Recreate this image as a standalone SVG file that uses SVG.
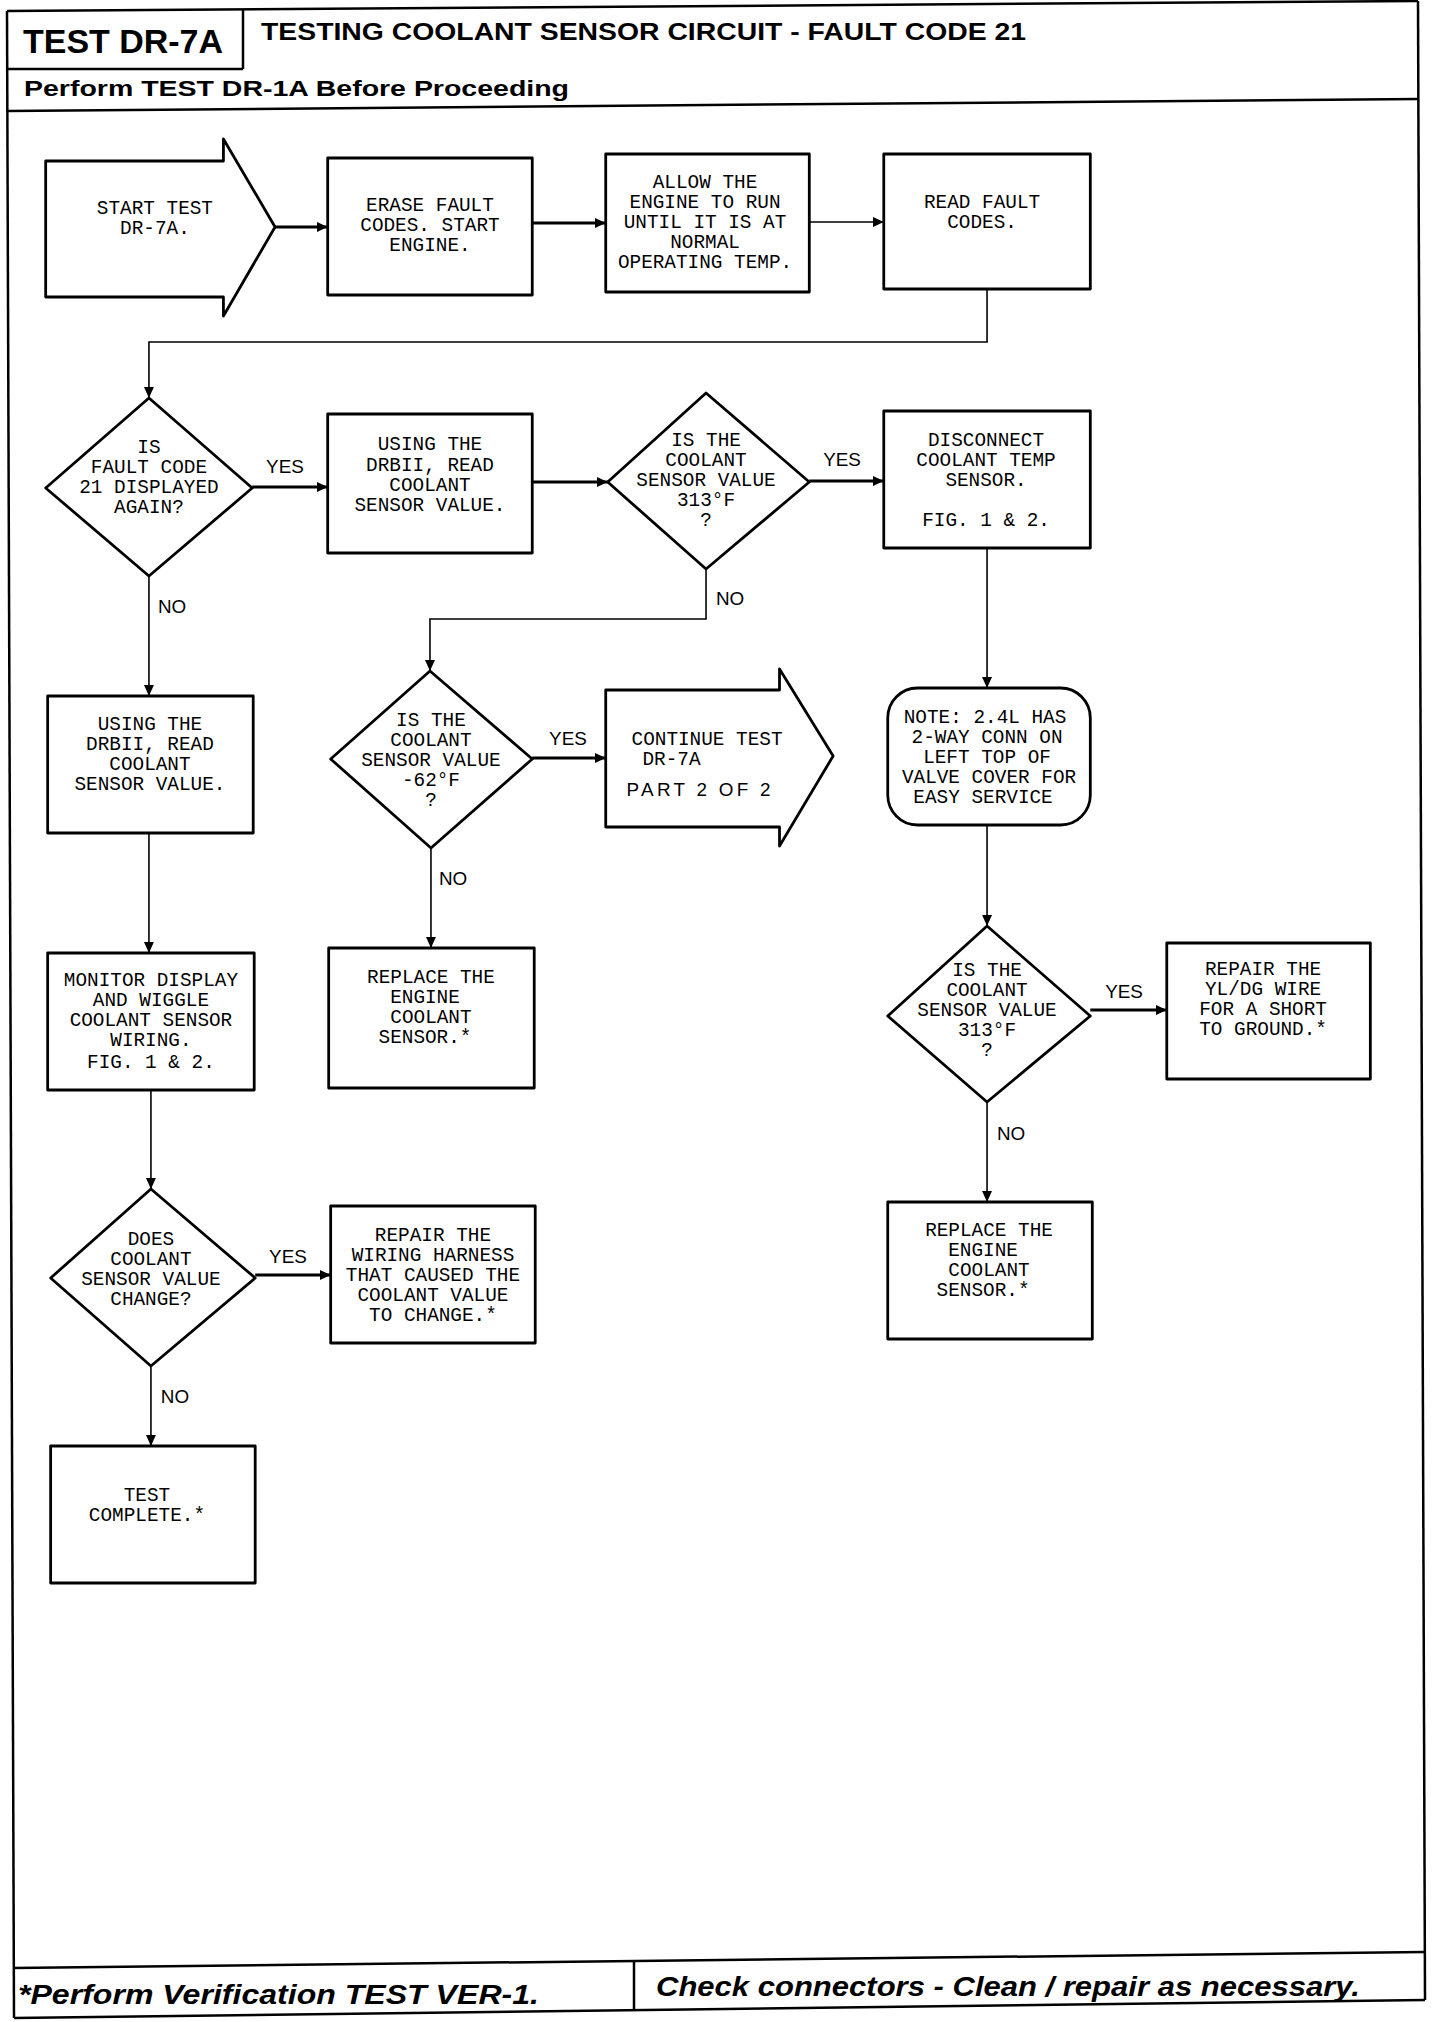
<svg xmlns="http://www.w3.org/2000/svg" width="1440" height="2022" viewBox="0 0 1440 2022">
<defs>
<marker id="ah" markerUnits="userSpaceOnUse" markerWidth="12" markerHeight="10" refX="11" refY="5" orient="auto">
<path d="M0,0 L11,5 L0,10 Z" fill="#000"/>
</marker>
<style>
.frame{fill:none;stroke:#000;stroke-width:2.5}
.box{fill:#fff;stroke:#000;stroke-width:2.8;stroke-linejoin:round}
.c{fill:none;stroke:#000;stroke-width:1.6}
.ca{fill:none;stroke:#000;stroke-width:3}
.t{font-family:"Liberation Mono","DejaVu Sans Mono",monospace;font-size:19.5px;text-anchor:middle;fill:#000}
.tl{font-family:"Liberation Mono","DejaVu Sans Mono",monospace;font-size:19.5px;fill:#000}
.lab{font-family:"Liberation Sans",Arial,sans-serif;font-size:19px;fill:#000}
.hb{font-family:"Liberation Sans",Arial,sans-serif;font-weight:bold;fill:#000}
.ft{font-family:"Liberation Sans",Arial,sans-serif;font-weight:bold;font-style:italic;font-size:27px;fill:#000}
</style>
</defs>
<rect width="1440" height="2022" fill="#fff"/>
<g id="frame">
<line class="frame" x1="7" y1="11" x2="1418" y2="1"/>
<line class="frame" x1="7" y1="11" x2="14" y2="2018"/>
<line class="frame" x1="1418" y1="1" x2="1425" y2="2000"/>
<line class="frame" x1="14" y1="2018" x2="1425" y2="2000"/>
<line class="frame" x1="7" y1="69" x2="243" y2="69"/>
<line class="frame" x1="243" y1="10" x2="243" y2="69"/>
<line class="frame" x1="7" y1="111" x2="1418" y2="99"/>
<line class="frame" x1="13" y1="1968" x2="1425" y2="1952"/>
<line class="frame" x1="634" y1="1962" x2="634" y2="2011"/>
<text class="hb" x="23" y="53" font-size="33" textLength="200" lengthAdjust="spacingAndGlyphs">TEST DR-7A</text>
<text class="hb" x="261" y="40" font-size="23" textLength="765" lengthAdjust="spacingAndGlyphs">TESTING COOLANT SENSOR CIRCUIT - FAULT CODE 21</text>
<text class="hb" x="24" y="96" font-size="22" textLength="545" lengthAdjust="spacingAndGlyphs">Perform TEST DR-1A Before Proceeding</text>
<text class="ft" x="18" y="2004" textLength="521" lengthAdjust="spacingAndGlyphs">*Perform Verification TEST VER-1.</text>
<text class="ft" x="656" y="1996" textLength="704" lengthAdjust="spacingAndGlyphs">Check connectors - Clean / repair as necessary.</text>
</g>
<g transform="matrix(0.993,0,0,1,0,1)">
<g id="connectors">
<line class="ca" x1="277" y1="226" x2="330" y2="226" marker-end="url(#ah)"/>
<line class="ca" x1="536" y1="222" x2="610" y2="222" marker-end="url(#ah)"/>
<line class="c" x1="815" y1="221" x2="890" y2="221" marker-end="url(#ah)"/>
<path class="c" d="M994,288 V341 H150 V397" marker-end="url(#ah)"/>
<line class="ca" x1="254" y1="486" x2="330" y2="486" marker-end="url(#ah)"/>
<line class="ca" x1="536" y1="481" x2="612" y2="481" marker-end="url(#ah)"/>
<line class="ca" x1="815" y1="480" x2="890" y2="480" marker-end="url(#ah)"/>
<line class="c" x1="994" y1="547" x2="994" y2="687" marker-end="url(#ah)"/>
<line class="c" x1="994" y1="824" x2="994" y2="925" marker-end="url(#ah)"/>
<line class="ca" x1="1098" y1="1009" x2="1175" y2="1009" marker-end="url(#ah)"/>
<line class="c" x1="994" y1="1101" x2="994" y2="1201" marker-end="url(#ah)"/>
<path class="c" d="M711,568 V618 H433 V670" marker-end="url(#ah)"/>
<line class="ca" x1="536" y1="757" x2="610" y2="757" marker-end="url(#ah)"/>
<line class="c" x1="434" y1="847" x2="434" y2="947" marker-end="url(#ah)"/>
<line class="c" x1="150" y1="575" x2="150" y2="695" marker-end="url(#ah)"/>
<line class="c" x1="150" y1="832" x2="150" y2="952" marker-end="url(#ah)"/>
<line class="c" x1="152" y1="1089" x2="152" y2="1188" marker-end="url(#ah)"/>
<line class="ca" x1="257" y1="1274" x2="333" y2="1274" marker-end="url(#ah)"/>
<line class="c" x1="152" y1="1365" x2="152" y2="1445" marker-end="url(#ah)"/>
<text class="lab" x="268" y="472">YES</text>
<text class="lab" x="829" y="465">YES</text>
<text class="lab" x="159" y="612">NO</text>
<text class="lab" x="721" y="604">NO</text>
<text class="lab" x="553" y="744">YES</text>
<text class="lab" x="442" y="884">NO</text>
<text class="lab" x="1113" y="997">YES</text>
<text class="lab" x="1004" y="1139">NO</text>
<text class="lab" x="271" y="1262">YES</text>
<text class="lab" x="162" y="1402">NO</text>
</g>
<g id="start">
<polygon class="box" points="46,160 225,160 225,138 277,226 225,315 225,296 46,296"/>
<text class="t" x="156" y="213">START TEST</text>
<text class="t" x="156" y="233">DR-7A.</text>
</g>
<g id="erase">
<rect class="box" x="330" y="157" width="206" height="137"/>
<text class="t" x="433" y="210">ERASE FAULT</text>
<text class="t" x="433" y="230">CODES. START</text>
<text class="t" x="433" y="250">ENGINE.</text>
</g>
<g id="allow">
<rect class="box" x="610" y="153" width="205" height="138"/>
<text class="t" x="710" y="187">ALLOW THE</text>
<text class="t" x="710" y="207">ENGINE TO RUN</text>
<text class="t" x="710" y="227">UNTIL IT IS AT</text>
<text class="t" x="710" y="247">NORMAL</text>
<text class="t" x="710" y="267">OPERATING TEMP.</text>
</g>
<g id="read">
<rect class="box" x="890" y="153" width="208" height="135"/>
<text class="t" x="989" y="207">READ FAULT</text>
<text class="t" x="989" y="227">CODES.</text>
</g>
<g id="d1">
<polygon class="box" points="150,397 254,487 150,575 46,487"/>
<text class="t" x="150" y="452">IS</text>
<text class="t" x="150" y="472">FAULT CODE</text>
<text class="t" x="150" y="492">21 DISPLAYED</text>
<text class="t" x="150" y="512">AGAIN?</text>
</g>
<g id="using1">
<rect class="box" x="330" y="413" width="206" height="139"/>
<text class="t" x="433" y="449">USING THE</text>
<text class="t" x="433" y="470">DRBII, READ</text>
<text class="t" x="433" y="490">COOLANT</text>
<text class="t" x="433" y="510">SENSOR VALUE.</text>
</g>
<g id="d2">
<polygon class="box" points="711,392 815,481 711,568 612,481"/>
<text class="t" x="711" y="445">IS THE</text>
<text class="t" x="711" y="465">COOLANT</text>
<text class="t" x="711" y="485">SENSOR VALUE</text>
<text class="t" x="711" y="505">313°F</text>
<text class="t" x="711" y="525">?</text>
</g>
<g id="disconnect">
<rect class="box" x="890" y="410" width="208" height="137"/>
<text class="t" x="993" y="445">DISCONNECT</text>
<text class="t" x="993" y="465">COOLANT TEMP</text>
<text class="t" x="993" y="485">SENSOR.</text>
<text class="t" x="993" y="525">FIG. 1 &amp; 2.</text>
</g>
<g id="note">
<rect class="box" x="894" y="687" width="204" height="137" rx="30" ry="30"/>
<text class="t" x="992" y="722">NOTE: 2.4L HAS</text>
<text class="t" x="994" y="742">2-WAY CONN ON</text>
<text class="t" x="994" y="762">LEFT TOP OF</text>
<text class="t" x="996" y="782">VALVE COVER FOR</text>
<text class="t" x="990" y="802">EASY SERVICE</text>
</g>
<g id="d4">
<polygon class="box" points="994,925 1098,1015 994,1101 894,1015"/>
<text class="t" x="994" y="975">IS THE</text>
<text class="t" x="994" y="995">COOLANT</text>
<text class="t" x="994" y="1015">SENSOR VALUE</text>
<text class="t" x="994" y="1035">313°F</text>
<text class="t" x="994" y="1055">?</text>
</g>
<g id="repairyl">
<rect class="box" x="1175" y="942" width="205" height="136"/>
<text class="t" x="1272" y="974">REPAIR THE</text>
<text class="t" x="1272" y="994">YL/DG WIRE</text>
<text class="t" x="1272" y="1014">FOR A SHORT</text>
<text class="t" x="1272" y="1034">TO GROUND.*</text>
</g>
<g id="replace2">
<rect class="box" x="894" y="1201" width="206" height="137"/>
<text class="t" x="996" y="1235">REPLACE THE</text>
<text class="t" x="990" y="1255">ENGINE</text>
<text class="t" x="996" y="1275">COOLANT</text>
<text class="t" x="990" y="1295">SENSOR.*</text>
</g>
<g id="d3">
<polygon class="box" points="433,670 536,758 434,847 333,758"/>
<text class="t" x="434" y="725">IS THE</text>
<text class="t" x="434" y="745">COOLANT</text>
<text class="t" x="434" y="765">SENSOR VALUE</text>
<text class="t" x="434" y="785">-62°F</text>
<text class="t" x="434" y="805">?</text>
</g>
<g id="continue">
<polygon class="box" points="610,689 785,689 785,668 839,755 785,845 785,826 610,826"/>
<text class="tl" x="636" y="744">CONTINUE TEST</text>
<text class="tl" x="647" y="764">DR-7A</text>
<text class="lab" x="631" y="795" font-size="20" textLength="145" lengthAdjust="spacing">PART  2 OF 2</text>
</g>
<g id="replace1">
<rect class="box" x="331" y="947" width="207" height="140"/>
<text class="t" x="434" y="982">REPLACE THE</text>
<text class="t" x="428" y="1002">ENGINE</text>
<text class="t" x="434" y="1022">COOLANT</text>
<text class="t" x="428" y="1042">SENSOR.*</text>
</g>
<g id="using2">
<rect class="box" x="48" y="695" width="207" height="137"/>
<text class="t" x="151" y="729">USING THE</text>
<text class="t" x="151" y="749">DRBII, READ</text>
<text class="t" x="151" y="769">COOLANT</text>
<text class="t" x="151" y="789">SENSOR VALUE.</text>
</g>
<g id="monitor">
<rect class="box" x="48" y="952" width="208" height="137"/>
<text class="t" x="152" y="985">MONITOR DISPLAY</text>
<text class="t" x="152" y="1005">AND WIGGLE</text>
<text class="t" x="152" y="1025">COOLANT SENSOR</text>
<text class="t" x="152" y="1045">WIRING.</text>
<text class="t" x="152" y="1067">FIG. 1 &amp; 2.</text>
</g>
<g id="d5">
<polygon class="box" points="152,1188 257,1277 152,1365 51,1277"/>
<text class="t" x="152" y="1244">DOES</text>
<text class="t" x="152" y="1264">COOLANT</text>
<text class="t" x="152" y="1284">SENSOR VALUE</text>
<text class="t" x="152" y="1304">CHANGE?</text>
</g>
<g id="repairwiring">
<rect class="box" x="333" y="1205" width="206" height="137"/>
<text class="t" x="436" y="1240">REPAIR THE</text>
<text class="t" x="436" y="1260">WIRING HARNESS</text>
<text class="t" x="436" y="1280">THAT CAUSED THE</text>
<text class="t" x="436" y="1300">COOLANT VALUE</text>
<text class="t" x="436" y="1320">TO CHANGE.*</text>
</g>
<g id="complete">
<rect class="box" x="51" y="1445" width="206" height="137"/>
<text class="t" x="148" y="1500">TEST</text>
<text class="t" x="148" y="1520">COMPLETE.*</text>
</g>
</g>
</svg>
